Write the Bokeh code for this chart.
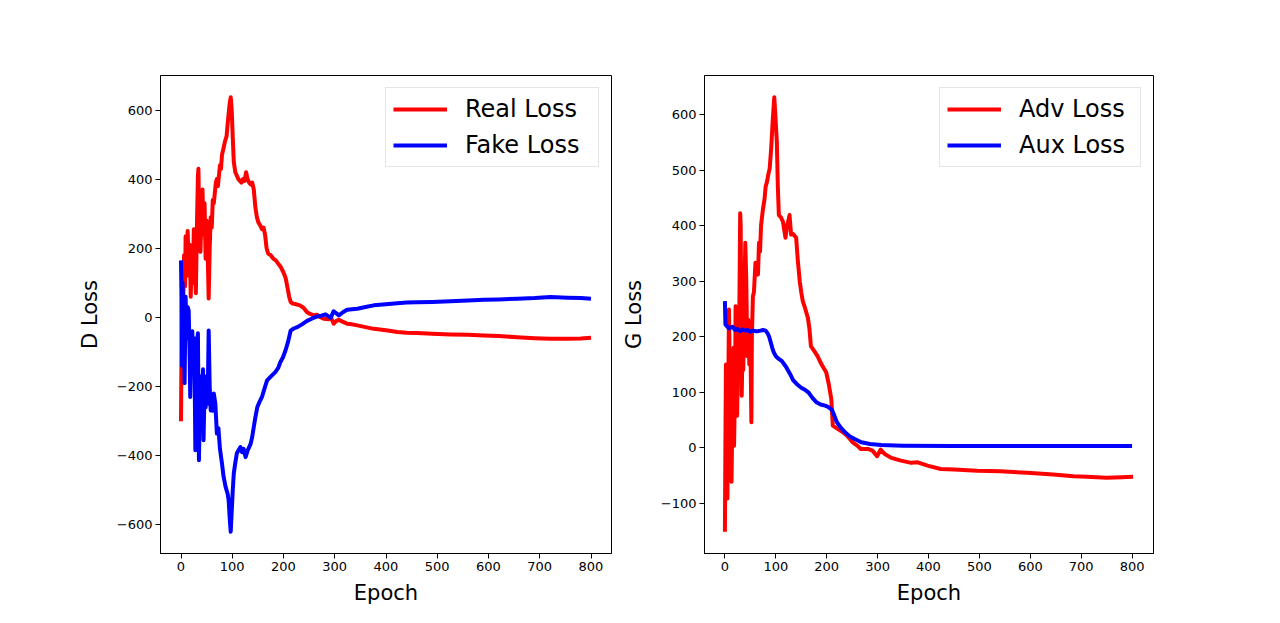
from bokeh.plotting import figure
from bokeh.layouts import row
from bokeh.models import Range1d, FixedTicker
from bokeh.embed import file_html
from bokeh.resources import INLINE

# left panel: discriminator losses
real_epoch = [0, 2, 4, 6, 8, 9, 11, 13, 15, 17, 19, 21, 23, 25, 27, 29, 31, 33, 34, 36,
              38, 40, 42, 44, 46, 48, 50, 52, 54, 56, 58, 60, 62, 64, 66, 68, 70, 72, 74, 76,
              78, 80, 83, 86, 89, 91, 93, 95, 97, 99, 101, 103, 106, 109, 112, 115, 118, 121, 124, 127,
              130, 133, 136, 139, 142, 145, 148, 151, 155, 158, 161, 164, 167, 170, 175, 180, 185, 190, 195, 200,
              204, 208, 211, 214, 218, 225, 232, 239, 246, 252, 259, 265, 270, 279, 288, 293, 298, 303, 308, 315,
              324, 334, 344, 360, 376, 400, 422, 440, 461, 490, 526, 560, 591, 620, 656, 690, 721, 754, 780, 800]
real_loss = [-300, 140, 20, 180, 90, 235, 120, 250, 160, 210, 60, 190, 100, 255, 140, 70, 260, 410, 430, 230,
             190, 300, 370, 240, 330, 170, 280, 190, 55, 200, 290, 260, 340, 330, 360, 390, 400, 380, 410, 440,
             430, 470, 490, 510, 525, 560, 590, 620, 637, 600, 520, 450, 420, 410, 400, 395, 390, 400, 395, 420,
             400, 390, 385, 390, 370, 320, 290, 275, 265, 255, 260, 240, 200, 185, 180, 170, 165, 155, 145, 130,
             115, 85, 60, 45, 40, 38, 35, 28, 15, 10, 6, 8, 2, -4, -5, -2, -18, -10, -7, -12,
             -18, -20, -23, -28, -33, -37, -42, -44, -45, -47, -49, -50, -52, -54, -57, -60, -62, -62, -61, -59]

fake_epoch = [0, 1, 2, 3, 5, 7, 9, 11, 13, 15, 17, 18, 20, 22, 24, 26, 28, 29, 31, 33,
              35, 37, 39, 41, 43, 44, 46, 48, 50, 52, 54, 56, 58, 60, 62, 64, 67, 70, 73, 76,
              80, 83, 87, 91, 93, 95, 97, 99, 101, 103, 106, 109, 112, 116, 119, 122, 126, 130, 133, 136,
              139, 142, 145, 149, 153, 158, 163, 168, 176, 184, 190, 194, 199, 204, 209, 214, 220, 227, 236, 246,
              256, 266, 274, 282, 292, 298, 308, 316, 324, 344, 360, 376, 400, 422, 440, 461, 490, 526, 560, 591,
              620, 656, 690, 721, 754, 780, 800]
fake_loss = [165, 60, -140, 100, 20, -190, 60, -60, 30, 20, -120, -230, -80, -40, -150, -60, -384, -200, -86, -46,
             -413, -250, -170, -250, -150, -355, -200, -260, -170, -250, -38, -200, -269, -240, -270, -220, -249, -336, -320, -380,
             -423, -460, -490, -510, -529, -580, -620, -560, -500, -451, -420, -393, -385, -375, -390, -380, -404, -385, -375, -365,
             -345, -317, -290, -259, -245, -230, -205, -182, -170, -158, -145, -129, -115, -95, -70, -38, -32, -28, -20, -10,
             -3, 3, 5, 9, -1, 18, 6, 15, 22, 25, 30, 35, 38, 41, 43, 44, 45, 47, 49, 51,
             52, 54, 56, 59, 57, 56, 54]

# right panel: generator losses
adv_epoch = [0, 1, 2, 3, 5, 6, 8, 10, 11, 13, 15, 17, 18, 20, 21, 23, 24, 26, 28, 30,
             31, 33, 35, 36, 38, 40, 42, 44, 46, 48, 50, 52, 53, 55, 57, 60, 63, 65, 67, 69,
             71, 73, 75, 78, 80, 83, 85, 88, 91, 94, 97, 99, 102, 104, 106, 110, 114, 117, 119, 122,
             125, 127, 130, 134, 140, 143, 147, 150, 153, 158, 163, 166, 169, 175, 182, 190, 199, 204, 209, 212,
             220, 232, 240, 251, 260, 267, 281, 290, 299, 306, 314, 327, 346, 366, 379, 398, 424, 450, 496, 541,
             594, 645, 685, 711, 750, 780, 802]
adv_loss = [-151, 10, 150, 60, -91, 40, 249, 100, -50, -61, 80, 180, 4, 120, 255, 140, 58, 180, 208, 422,
            400, 94, 200, 140, 250, 369, 300, 165, 230, 150, 200, 46, 200, 273, 280, 333, 320, 312, 369, 353,
            400, 416, 431, 449, 470, 480, 491, 503, 540, 590, 631, 600, 551, 470, 419, 415, 407, 390, 378, 400,
            410, 419, 384, 385, 378, 340, 300, 280, 264, 250, 234, 215, 183, 175, 165, 150, 136, 115, 88, 40,
            35, 28, 22, 10, 4, -2, -2, -5, -15, -3, -11, -18, -23, -27, -26, -32, -38, -39, -41, -42,
            -45, -48, -51, -52, -54, -53, -52]

aux_epoch = [0, 1, 3, 8, 15, 20, 25, 30, 35, 40, 45, 50, 55, 60, 65, 70, 75, 80, 84, 87,
             90, 93, 96, 100, 106, 112, 120, 128, 134, 141, 150, 158, 164, 172, 180, 188, 197, 204, 210, 215,
             220, 228, 236, 245, 255, 268, 285, 307, 350, 450, 550, 650, 800]
aux_loss = [264, 222, 220, 215, 218, 212, 214, 210, 213, 211, 212, 209, 211, 210, 210, 211, 212, 211, 206, 200,
            190, 180, 172, 165, 160, 156, 146, 133, 122, 115, 108, 104, 100, 90, 82, 78, 76, 73, 69, 58,
            46, 36, 28, 21, 16, 10, 7, 5, 4, 3.5, 3.5, 3.5, 3.5]

x_ticks = [0, 100, 200, 300, 400, 500, 600, 700, 800]
d_ticks = [-600, -400, -200, 0, 200, 400, 600]
g_ticks = [-100, 0, 100, 200, 300, 400, 500, 600]

FONT = "DejaVu Sans"


def padded(lo, hi):
    pad = 0.05 * (hi - lo)
    return Range1d(lo - pad, hi + pad)


def make_panel(width, left, right, ylabel, series, yticks, label_w):
    xs = [v for e, _, _, _ in series for v in e]
    ys = [v for _, l, _, _ in series for v in l]
    p = figure(width=width, height=612, output_backend="svg", toolbar_location=None,
               x_range=padded(min(xs), max(xs)), y_range=padded(min(ys), max(ys)),
               min_border_left=left, min_border_right=right,
               min_border_top=75, min_border_bottom=59)
    for ep, loss, color, name in series:
        p.line(ep, loss, line_color=color, line_width=4, line_join="round", legend_label=name)

    p.xgrid.visible = False
    p.ygrid.visible = False
    p.outline_line_color = "black"
    p.outline_line_alpha = 1
    p.outline_line_width = 1
    p.background_fill_color = "white"

    p.xaxis.ticker = FixedTicker(ticks=x_ticks)
    p.yaxis.ticker = FixedTicker(ticks=yticks)
    p.yaxis.major_label_overrides = {t: "\u2212" + str(-t) for t in yticks if t < 0}
    p.xaxis.axis_label = "Epoch"
    p.yaxis.axis_label = ylabel
    for ax in (p.xaxis, p.yaxis):
        ax.axis_line_color = "black"
        ax.major_tick_line_color = "black"
        ax.major_tick_out = 5
        ax.major_tick_in = 0
        ax.minor_tick_line_color = None
        ax.major_label_text_font = FONT
        ax.major_label_text_font_size = "13px"
        ax.major_label_text_color = "black"
        ax.major_label_standoff = 3
        ax.axis_label_text_font = FONT
        ax.axis_label_text_font_size = "21px"
        ax.axis_label_text_font_style = "normal"
        ax.axis_label_text_color = "black"
    p.xaxis.axis_label_standoff = 7
    p.yaxis.axis_label_standoff = 12

    lg = p.legend[0]
    lg.location = "top_right"
    lg.margin = 12
    lg.padding = 7
    lg.spacing = 8
    lg.glyph_width = 54
    lg.glyph_height = 28
    lg.label_height = 28
    lg.label_width = label_w
    lg.label_standoff = 18
    lg.label_text_font = FONT
    lg.label_text_font_size = "24px"
    lg.label_text_color = "black"
    lg.border_line_color = "#cccccc"
    lg.border_line_width = 1
    lg.background_fill_alpha = 0.8
    return p


p1 = make_panel(618, 160, 7, "D Loss",
                [(real_epoch, real_loss, "#ff0000", "Real Loss"),
                 (fake_epoch, fake_loss, "#0000ff", "Fake Loss")], d_ticks, 126)
p2 = make_panel(654, 84, 119, "G Loss",
                [(adv_epoch, adv_loss, "#ff0000", "Adv Loss"),
                 (aux_epoch, aux_loss, "#0000ff", "Aux Loss")], g_ticks, 114)

p = row(p1, p2)
open("out.html", "w").write(file_html(p, INLINE))
